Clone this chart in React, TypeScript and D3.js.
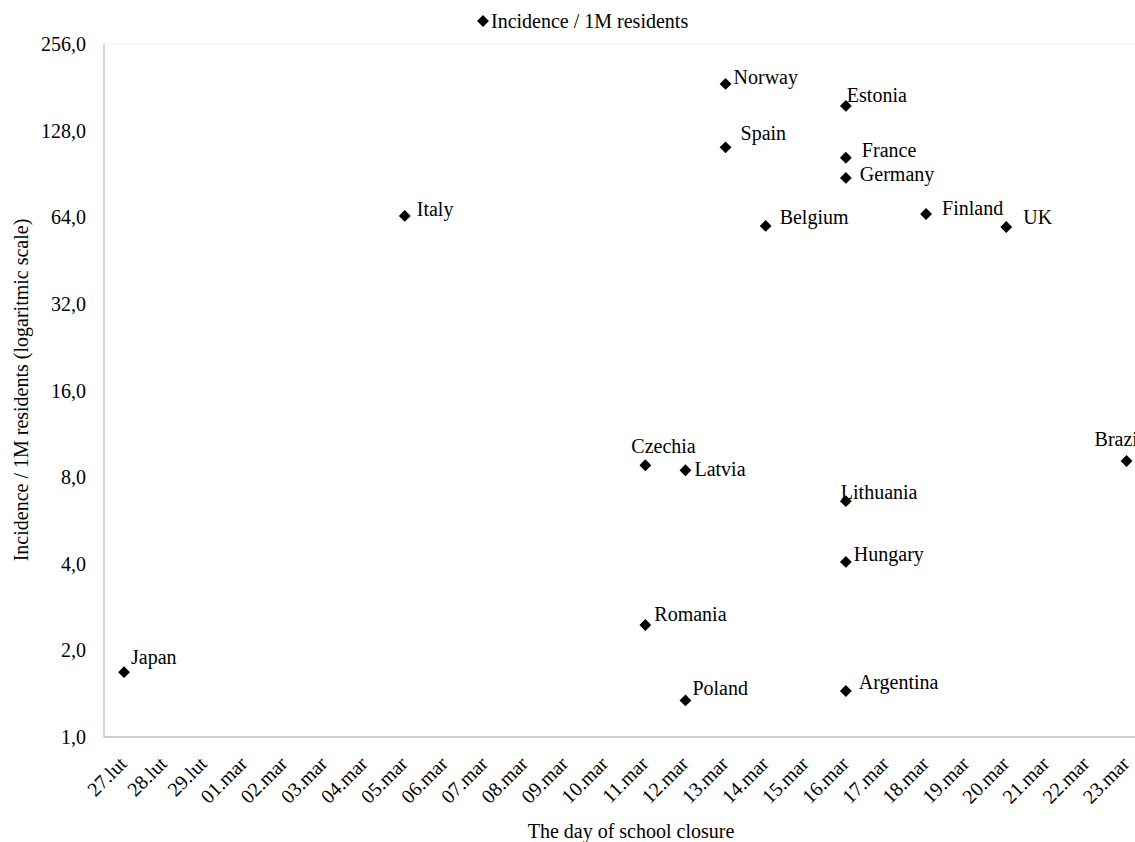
import React from "react";
import * as d3 from "d3";

const days = [
  "27.lut", "28.lut", "29.lut", "01.mar", "02.mar", "03.mar", "04.mar", "05.mar",
  "06.mar", "07.mar", "08.mar", "09.mar", "10.mar", "11.mar", "12.mar", "13.mar",
  "14.mar", "15.mar", "16.mar", "17.mar", "18.mar", "19.mar", "20.mar", "21.mar",
  "22.mar", "23.mar",
];

const countries = [
  "Japan", "Italy", "Czechia", "Latvia", "Romania", "Poland", "Norway", "Spain",
  "Belgium", "Estonia", "France", "Germany", "Lithuania", "Hungary", "Argentina",
  "Finland", "UK", "Brazil",
];
const closureDays = [
  "27.lut", "05.mar", "11.mar", "12.mar", "11.mar", "12.mar", "13.mar", "13.mar",
  "14.mar", "16.mar", "16.mar", "16.mar", "16.mar", "16.mar", "16.mar",
  "18.mar", "20.mar", "23.mar",
];
const incidence = [
  1.68, 64.7, 8.8, 8.45, 2.45, 1.34, 186, 112,
  59.7, 156, 103, 87.7, 6.6, 4.06, 1.445,
  65.7, 59.2, 9.1,
];
// label placement relative to marker (dx, dy of text baseline)
const labelDx = [7, 12, -14, 9, 9, 7, 8, 15, 14, 1, 16, 14, -5, 8, 13, 16, 17, -32];
const labelDy = [-8, 0, -12, 6, -4, -5, 0, -7, -2, -4, -1, 3, -2, -1, -2, 1, -3, -15];

const yTicks = [1, 2, 4, 8, 16, 32, 64, 128, 256];

const W = 1135;
const H = 842;
const FONT = "Times New Roman, Liberation Serif, serif";

export default function App() {
  const x = d3.scaleBand<string>().domain(days).range([104, 104 + 26 * 40.1]);
  const y = d3.scaleLog().base(2).domain([1, 256]).range([737, 44]);
  const diamond = d3.symbol().type(d3.symbolSquare).size(70)()!;
  const cx = (d: string) => (x(d) ?? 0) + x.bandwidth() / 2;
  const fmt = (v: number) => v.toFixed(1).replace(".", ",");

  return (
    <svg width={W} height={H}
      style={{ position: "absolute", left: 0, top: 0, background: "#fff", fontFamily: FONT }}>
      <line x1={x.range()[0]} x2={W} y1={y(256)} y2={y(256)} stroke="#f0f0f0" />
      <line x1={x.range()[0]} x2={x.range()[0]} y1={y(256)} y2={y(1)} stroke="#bdbdbd" strokeWidth={1.3} />
      <line x1={x.range()[0]} x2={W} y1={y(1)} y2={y(1)} stroke="#bdbdbd" strokeWidth={1.3} />

      {yTicks.map((t) => (
        <text key={t} x={x.range()[0] - 18} y={y(t)} dy="0.35em" textAnchor="end" fontSize={20}>
          {fmt(t)}
        </text>
      ))}

      {days.map((d) => (
        <text key={d} transform={`translate(${cx(d) + 4},${y(1) + 28}) rotate(-45)`}
          textAnchor="end" fontSize={20}>
          {d}
        </text>
      ))}

      {countries.map((c, i) => {
        const px = cx(closureDays[i]);
        const py = y(incidence[i]);
        return (
          <g key={c}>
            <path d={diamond} transform={`translate(${px},${py}) rotate(45)`} fill="#000" />
            <text x={px + labelDx[i]} y={py + labelDy[i]} fontSize={20}>{c}</text>
          </g>
        );
      })}

      <text x={631} y={838} textAnchor="middle" fontSize={20}>The day of school closure</text>
      <text transform={`translate(28,390) rotate(-90)`} textAnchor="middle" fontSize={20}>
        Incidence / 1M residents (logaritmic scale)
      </text>

      <path d={diamond} transform="translate(483,21) rotate(45)" fill="#000" />
      <text x={491} y={28} fontSize={20}>Incidence / 1M residents</text>
    </svg>
  );
}
